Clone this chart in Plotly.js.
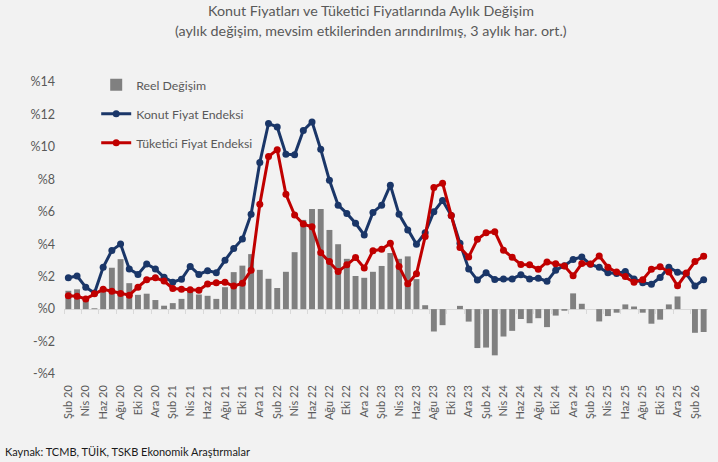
<!DOCTYPE html>
<html>
<head>
<meta charset="utf-8">
<script src="https://cdn.plot.ly/plotly-3.0.1.min.js"></script>
<style>
html,body{margin:0;padding:0;background:#f2f2f2;}
#chart{width:718px;height:462px;}
</style>
</head>
<body>
<div id="chart"></div>
<script>
var periods = ["Şub 20","Mar 20","Nis 20","May 20","Haz 20","Tem 20","Ağu 20","Eyl 20","Eki 20","Kas 20","Ara 20",
"Oca 21","Şub 21","Mar 21","Nis 21","May 21","Haz 21","Tem 21","Ağu 21","Eyl 21","Eki 21","Kas 21","Ara 21",
"Oca 22","Şub 22","Mar 22","Nis 22","May 22","Haz 22","Tem 22","Ağu 22","Eyl 22","Eki 22","Kas 22","Ara 22",
"Oca 23","Şub 23","Mar 23","Nis 23","May 23","Haz 23","Tem 23","Ağu 23","Eyl 23","Eki 23","Kas 23","Ara 23",
"Oca 24","Şub 24","Mar 24","Nis 24","May 24","Haz 24","Tem 24","Ağu 24","Eyl 24","Eki 24","Kas 24","Ara 24",
"Oca 25","Şub 25","Mar 25","Nis 25","May 25","Haz 25","Tem 25","Ağu 25","Eyl 25","Eki 25","Kas 25","Ara 25",
"Oca 26","Şub 26","Mar 26"];

var konut = [1.93,2.04,1.35,0.99,2.58,3.62,4.01,2.47,2.14,2.78,2.47,
1.96,1.66,1.84,2.63,2.14,2.37,2.24,3.01,3.73,4.32,5.85,9.04,
11.44,11.23,9.55,9.51,11.01,11.54,9.85,7.94,6.41,5.90,5.29,4.57,
5.96,6.41,7.64,5.84,4.88,4.00,4.71,6.00,6.70,5.77,4.06,2.48,
1.79,2.24,1.83,1.86,1.86,2.12,1.86,1.91,1.71,2.40,2.68,3.06,
3.22,2.76,2.58,2.24,2.19,2.32,1.86,1.63,1.53,1.95,2.58,2.27,
2.18,1.42,1.81];

var tufe = [0.83,0.79,0.63,0.95,1.22,1.10,0.97,0.86,1.35,1.81,1.93,
1.73,1.27,1.22,1.20,1.17,1.55,1.62,1.65,1.42,1.60,2.40,6.46,
9.40,9.83,7.08,5.80,5.24,5.08,3.48,2.93,2.32,2.73,3.18,2.53,
3.59,3.69,4.06,2.63,1.56,2.18,4.47,7.50,7.76,5.77,3.80,3.22,
4.30,4.71,4.77,3.63,3.20,2.75,2.73,2.45,2.91,2.79,2.65,2.05,
2.81,2.78,3.28,2.58,2.28,2.01,1.66,1.81,2.45,2.61,2.29,1.44,
2.22,2.93,3.26];

var reel = [1.13,1.22,0.55,0.05,1.33,2.55,3.08,1.60,0.88,0.95,0.56,
0.21,0.37,0.63,1.30,0.90,0.82,0.63,1.35,2.28,2.68,3.39,2.42,
1.87,1.30,2.30,3.51,5.50,6.17,6.17,4.88,4.00,3.10,2.04,1.93,
2.30,2.66,3.46,3.10,3.25,1.85,0.24,-1.38,-0.99,0.00,0.20,-0.77,
-2.40,-2.37,-2.85,-1.69,-1.34,-0.61,-0.87,-0.56,-1.11,-0.40,-0.10,0.97,
0.33,0.00,-0.76,-0.43,-0.22,0.29,0.16,-0.22,-0.90,-0.65,0.29,0.78,
0.00,-1.46,-1.41];

var yTickVals = [-4,-2,0,2,4,6,8,10,12,14];
var yTickText = ["-%4","-%2","%0","%2","%4","%6","%8","%10","%12","%14"];

var seriesNames = ["Reel Değişim","Konut Fiyat Endeksi","Tüketici Fiyat Endeksi"];
var titleLine1 = "Konut Fiyatları ve Tüketici Fiyatlarında Aylık Değişim";
var titleLine2 = "(aylık değişim, mevsim etkilerinden arındırılmış, 3 aylık har. ort.)";
var sourceText = "Kaynak: TCMB, TÜİK, TSKB Ekonomik Araştırmalar";

var xTickVals = periods.filter(function(p,i){return i%2===0;});
var boundaryTicks = [];
for (var k=0;k<periods.length;k+=2){ boundaryTicks.push(k-0.5); }

var FONT = "Lato, 'Open Sans', sans-serif";
var GRAY_TXT = "#595959";

var traces = [
 {type:'bar', x:periods, y:reel, name:seriesNames[0], marker:{color:'#808080'},
  legendgroup:'a', hoverinfo:'x+y'},
 {type:'scatter', mode:'lines+markers', x:periods, y:konut, name:seriesNames[1],
  line:{color:'#1a3668', width:3}, marker:{color:'#1a3668', size:7}, legendgroup:'b'},
 {type:'scatter', mode:'lines+markers', x:periods, y:tufe, name:seriesNames[2],
  line:{color:'#c00000', width:3}, marker:{color:'#c00000', size:7}, legendgroup:'c'},
 {type:'scatter', x:[], y:[], xaxis:'x2', showlegend:false, hoverinfo:'skip'}
];

var layout = {
  width:718, height:462,
  paper_bgcolor:'#f2f2f2', plot_bgcolor:'#f2f2f2',
  margin:{l:64, r:10, t:82, b:87.5, pad:0},
  font:{family:FONT, color:GRAY_TXT, size:12},
  bargap:0.32,
  showlegend:true,
  title:{text:titleLine1, font:{family:FONT, size:14.3, color:GRAY_TXT},
         x:371/718, xanchor:'center', xref:'container', y:1-11/462, yref:'container', yanchor:'middle'},
  legend:{x:0.05, xanchor:'left', y:1.04, yanchor:'top', bgcolor:'rgba(0,0,0,0)',
          traceorder:'grouped', tracegroupgap:10, itemwidth:30,
          font:{family:FONT, size:12.3, color:GRAY_TXT}},
  xaxis:{type:'category', range:[-0.5, periods.length-0.5], tickmode:'array', tickvals:xTickVals,
         ticktext:xTickVals, tickangle:-90, ticks:'', showgrid:false, showline:false, zeroline:false,
         tickfont:{family:FONT, size:11, color:GRAY_TXT}, ticklabelstandoff:8, fixedrange:true},
  xaxis2:{overlaying:'x', anchor:'free', position:4/18, type:'linear',
          range:[-0.5, periods.length-0.5], tickmode:'array', tickvals:boundaryTicks,
          ticks:'outside', ticklen:4, tickcolor:'#d9d9d9', tickwidth:1, showticklabels:false,
          showgrid:false, zeroline:false, showline:false},
  yaxis:{range:[-4,14], tickmode:'array', tickvals:yTickVals, ticktext:yTickText,
         showgrid:false, zeroline:true, zerolinecolor:'#d9d9d9', zerolinewidth:1,
         showline:false, ticks:'', ticklabelstandoff:8,
         tickfont:{family:FONT, size:12.5, color:GRAY_TXT}},
  annotations:[
    {text:titleLine2, xref:'paper', yref:'paper', x:(371-64)/644, y:(374.5-30)/292.5,
     xanchor:'center', yanchor:'middle', showarrow:false,
     font:{family:FONT, size:14.3, color:GRAY_TXT}},
    {text:sourceText, xref:'paper', yref:'paper', x:(3-64)/644, y:(374.5-452)/292.5,
     xanchor:'left', yanchor:'middle', showarrow:false,
     font:{family:FONT, size:11, color:'#1a1a1a'}}
  ]
};

Plotly.newPlot('chart', traces, layout, {displayModeBar:false, staticPlot:true});
</script>
</body>
</html>
